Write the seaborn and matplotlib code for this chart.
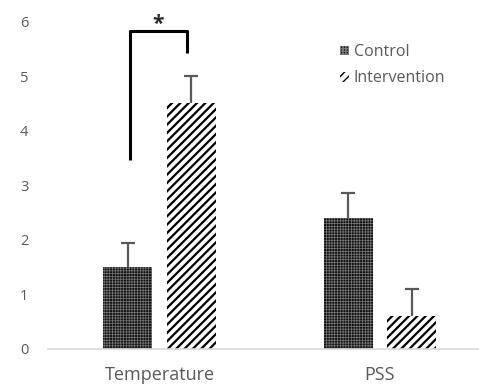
import pandas as pd
import seaborn as sns
from matplotlib import pyplot as plt

measures = ["Temperature", "PSS"]
groups = ["Control", "Intervention"]
control_means = [1.5, 2.4]
intervention_means = [4.5, 0.6]
control_err = [0.45, 0.45]
intervention_err = [0.5, 0.5]

data = pd.DataFrame(
    {
        "Measure": measures * 2,
        "Group": [groups[0]] * 2 + [groups[1]] * 2,
        "Mean": control_means + intervention_means,
        "Err": control_err + intervention_err,
    }
)

sns.set_style("white")
plt.rcParams["font.family"] = ["Open Sans", "DejaVu Sans"]

fig, ax = plt.subplots(figsize=(4.79, 3.92), dpi=100)
fig.subplots_adjust(left=0.1, right=1.0, top=0.945, bottom=0.11)

sns.barplot(
    data=data,
    x="Measure",
    y="Mean",
    hue="Group",
    order=measures,
    hue_order=groups,
    width=0.576,
    gap=0.23,
    errorbar=None,
    ax=ax,
)

# patterns: dark checker for control, diagonal stripes for intervention
styles = {
    "Control": dict(facecolor="#111111", edgecolor="#7a7a7a", hatch="++++++", hlw=0.5),
    "Intervention": dict(facecolor="white", edgecolor="black", hatch="////", hlw=1.6),
}


def style_patch(p, grp):
    s = styles[grp]
    p.set_facecolor(s["facecolor"])
    p.set_edgecolor(s["edgecolor"])
    p.set_hatch(s["hatch"])
    p.set_hatch_linewidth(s["hlw"])
    p.set_linewidth(0)


bars = [p for p in ax.patches if p.get_height() > 0]
for i, bar in enumerate(bars):
    grp = groups[i // len(measures)]
    style_patch(bar, grp)
    row = data[(data.Group == grp) & (data.Measure == measures[i % len(measures)])].iloc[0]
    eb = ax.errorbar(
        bar.get_x() + bar.get_width() / 2,
        row.Mean,
        yerr=[[0], [row.Err]],
        fmt="none",
        ecolor="#595959",
        elinewidth=1.6,
        capsize=5,
        capthick=1.6,
    )
    eb.lines[1][0].set_visible(False)  # plus-only error bar

# significance bracket
ax.plot([-0.134, -0.134, 0.125, 0.125], [3.47, 5.82, 5.82, 5.43], color="black", lw=2.2, solid_capstyle="butt")
ax.text(-0.005, 5.76, "*", ha="center", va="bottom", fontsize=15, fontweight="bold")

ax.set_ylim(0, 6)
ax.set_xlim(-0.506, 1.449)
ax.set_yticks(range(0, 7))
ax.set(xlabel="", ylabel="")
ax.tick_params(axis="y", length=0, pad=14, labelsize=10.5, labelcolor="#595959")
ax.tick_params(axis="x", length=0, pad=12, labelsize=13, labelcolor="#595959")
sns.despine(ax=ax, left=True)
ax.spines["bottom"].set_color("#d9d9d9")
ax.spines["bottom"].set_linewidth(1.2)

handles, labels = ax.get_legend_handles_labels()
for h, grp in zip(handles, groups):
    style_patch(h, grp)
ax.legend(
    handles, labels, loc="upper left", bbox_to_anchor=(0.645, 0.975),
    frameon=False, fontsize=11.5, handlelength=0.55, handleheight=0.55,
    handletextpad=0.3, labelspacing=0.65, labelcolor="#595959",
)

fig.savefig("out.png", dpi=100)
